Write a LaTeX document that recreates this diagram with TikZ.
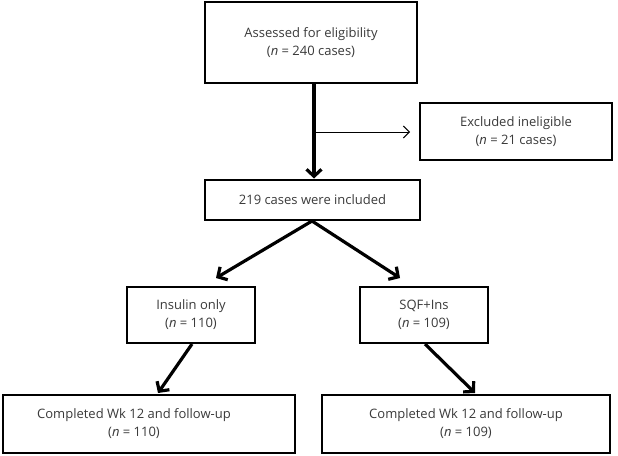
\documentclass[tikz,border=0pt]{standalone}
\usepackage{fontspec}
\setmainfont{Open Sans}
\usetikzlibrary{arrows.meta}
\definecolor{txt}{HTML}{3A3A3A}
\tikzset{
  box/.style={draw=black, line width=2.8pt, fill=white, inner sep=0pt, text=txt, align=center, font=\fontsize{13}{18}\selectfont},
  lbl/.style={text=txt, align=center, inner sep=0pt, font=\fontsize{13}{18}\selectfont},
  thickarrow/.style={line width=3.2pt, -{Straight Barb[length=7pt,width=15pt,line width=3.2pt]}},
  thinarrow/.style={line width=1pt, -{Straight Barb[length=6pt,width=12pt,line width=1pt]}}
}
\begin{document}
\begin{tikzpicture}[x=1pt,y=-1pt]
\useasboundingbox (0,0) rectangle (618,455);
\node[box, minimum width=212pt, minimum height=81pt] (assess) at (311,42.5) {Assessed for eligibility\\(\textit{n} = 240 cases)};
\node[box, minimum width=192pt, minimum height=57pt] (excl) at (516,131.5) {Excluded ineligible\\(\textit{n} = 21 cases)};
\node[box, minimum width=215pt, minimum height=40pt] (incl) at (312.5,200) {219 cases were included};
\node[box, minimum width=128pt, minimum height=56pt] (ins) at (191,315) {Insulin only\\(\textit{n} = 110)};
\node[box, minimum width=128pt, minimum height=56pt] (sqf) at (424,315) {SQF+Ins\\(\textit{n} = 109)};
\node[box, minimum width=292pt, minimum height=58pt] (bl) at (149,424) {};
\node[lbl] (bltext) at (134,424) {Completed Wk 12 and follow-up\\(\textit{n} = 110)};
\node[box, minimum width=288pt, minimum height=58pt] (br) at (466,424) {Completed Wk 12 and follow-up\\(\textit{n} = 109)};
\coordinate (a1) at (314,83);
\coordinate (a2) at (314,178.5);
\coordinate (hs) at (314,132);
\coordinate (he) at (410,132);
\coordinate (ls) at (312,221);
\coordinate (le) at (216,278);
\coordinate (re) at (400,278);
\coordinate (l2s) at (192,344);
\coordinate (l2e) at (158,393);
\coordinate (r2s) at (425,344);
\coordinate (r2e) at (475,393);
\draw[thickarrow] (a1) -- (a2);
\draw[thinarrow] (hs) -- (he);
\draw[thickarrow] (ls) -- (le);
\draw[thickarrow] (ls) -- (re);
\draw[thickarrow] (l2s) -- (l2e);
\draw[thickarrow] (r2s) -- (r2e);
\end{tikzpicture}
\end{document}
